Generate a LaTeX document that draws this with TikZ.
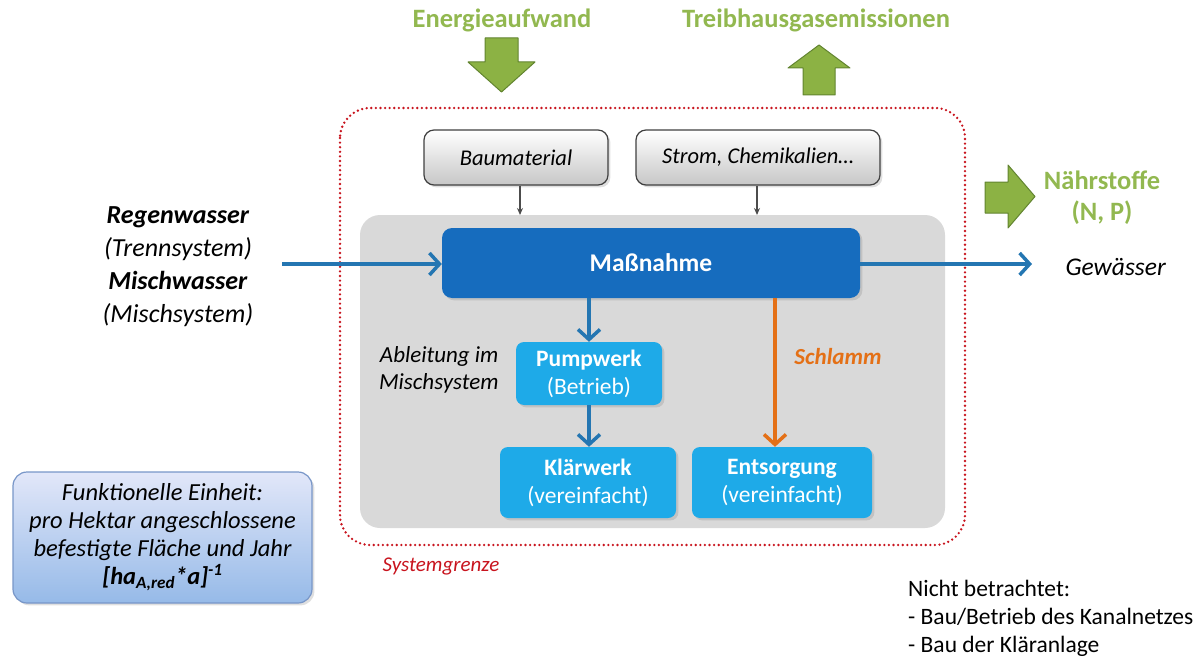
\documentclass[tikz,border=0pt]{standalone}
\usepackage{fontspec}
\setmainfont{Carlito}
\usetikzlibrary{arrows.meta,shadows}
\definecolor{gtext}{RGB}{146,184,80}
\definecolor{gfill}{RGB}{140,178,68}
\definecolor{gline}{RGB}{98,132,48}
\definecolor{dblue}{RGB}{22,108,190}
\definecolor{lblue}{RGB}{30,170,232}
\definecolor{flow}{RGB}{36,118,178}
\definecolor{orng}{RGB}{228,112,22}
\definecolor{sysred}{RGB}{200,20,30}
\definecolor{bggray}{RGB}{217,217,217}
\definecolor{fetop}{RGB}{226,231,249}
\definecolor{febot}{RGB}{150,186,232}
\definecolor{feline}{RGB}{120,150,200}
\tikzset{
  blockarrow/.style={fill=gfill, draw=gline, line width=1pt, line join=round},
  greylabel/.style={draw=black!75, line width=1.2pt, rounded corners=10pt, top color=white, bottom color=black!22, minimum height=55pt, font=\fontsize{22.5}{26}\selectfont\itshape, drop shadow={opacity=0.25}},
  bluebox/.style={fill=lblue, rounded corners=8pt, text=white, align=center, font=\fontsize{23.5}{28}\selectfont, drop shadow={opacity=0.25}},
  flowarrow/.style={draw=flow, line width=4pt, -{Straight Barb[length=10pt,width=22pt,line width=3.5pt]}},
  thinarrow/.style={draw=black!70, line width=1.2pt, -{Stealth[length=7pt,width=6pt]}},
  gtitle/.style={text=gtext, font=\fontsize{26.5}{30}\selectfont\bfseries},
}
\begin{document}
\begin{tikzpicture}[x=1pt,y=-1pt]
\useasboundingbox (0,0) rectangle (1200,661);

% system boundary
\draw[sysred, line width=2.6pt, dash pattern=on 0pt off 4.6pt, line cap=round, rounded corners=30pt] (340,108) rectangle (965,545);
\node[text=sysred, font=\fontsize{21}{24}\selectfont\itshape] (sysg) at (441,566) {Systemgrenze};

% gray background
\fill[bggray, rounded corners=20pt] (360,215) rectangle (945,528);

% green titles and block arrows
\node[gtitle] (energie) at (502,20) {Energieaufwand};
\node[gtitle] (thg) at (816,20) {Treibhausgasemissionen};
\draw[blockarrow] (485,38)--(518,38)--(518,62)--(535,62)--(501.5,92)--(468,62)--(485,62)--cycle;
\draw[blockarrow] (803,95)--(835,95)--(835,68)--(850,68)--(819,45)--(788,68)--(803,68)--cycle;
\draw[blockarrow] (985,182)--(1008,182)--(1008,165)--(1035,196.5)--(1008,228)--(1008,213)--(985,213)--cycle;
\node[text=gtext, font=\fontsize{26.5}{31}\selectfont\bfseries, align=center] (naehr) at (1102,198) {Nährstoffe\\(N, P)};

% gray input boxes
\node[greylabel, minimum width=184pt] (bau) at (516,157.5) {Baumaterial};
\node[greylabel, minimum width=244pt] (strom) at (758,157.5) {Strom, Chemikalien…};

% main box
\node[fill=dblue, rounded corners=10pt, minimum width=418pt, minimum height=70pt, text=white, font=\fontsize{25.5}{30}\selectfont\bfseries, drop shadow={opacity=0.25}] (mass) at (651,263) {Maßnahme};

\draw[thinarrow] (bau.south -| 520,0) -- (520,215);
\draw[thinarrow] (strom.south -| 757,0) -- (757,215);

% left text
\node[align=center, font=\fontsize{26}{33}\selectfont] (input) at (178,267) {\textbf{\textit{Regenwasser}}\\\textit{(Trennsystem)}\\\textbf{\textit{Mischwasser}}\\\textit{(Mischsystem)}};
\coordinate (inS) at (282,264);
\coordinate (outE) at (1032,264);
\draw[flowarrow] (inS) -- (mass.west |- inS);

% output
\node[font=\fontsize{25.5}{30}\selectfont\itshape, anchor=west] (gew) at (1062,267) {Gewässer};
\draw[flowarrow] (mass.east |- inS) -- (outE);

% lower boxes
\node[bluebox, minimum width=146pt, minimum height=63pt] (pump) at (589,373.5) {\textbf{Pumpwerk}\\(Betrieb)};
\node[bluebox, minimum width=176pt, minimum height=71pt] (klaer) at (588,482.5) {\textbf{Klärwerk}\\(vereinfacht)};
\node[bluebox, minimum width=180pt, minimum height=71pt] (ents) at (782,482.5) {\textbf{Entsorgung}\\(vereinfacht)};

\draw[flowarrow] (mass.south -| pump.north) -- (pump.north);
\draw[flowarrow] (pump.south) -- (klaer.north -| pump.south);
\draw[draw=orng, line width=4pt, -{Straight Barb[length=10pt,width=22pt,line width=3.5pt]}] (mass.south -| 775,0) -- (ents.north -| 775,0);

\node[text=orng, font=\fontsize{23}{27}\selectfont\bfseries\itshape] (schl) at (838,357) {Schlamm};
\node[align=right, anchor=east, font=\fontsize{23}{27}\selectfont\itshape] (ableit) at (502,370) {Ableitung im\\Mischsystem};

% functional unit
\node[draw=feline, line width=1.2pt, rounded corners=14pt, top color=fetop, bottom color=febot, minimum width=299pt, minimum height=131pt, align=center, font=\fontsize{24.5}{28}\selectfont\itshape, drop shadow={opacity=0.25}] (fe) at (162.5,537.5) {Funktionelle Einheit:\\pro Hektar angeschlossene\\befestigte Fläche und Jahr\\\textbf{[ha\textsubscript{A,red}*a]\textsuperscript{-1}}};

% not considered
\node[anchor=north west, align=left, inner sep=0pt, font=\fontsize{23.5}{28}\selectfont] (nicht) at (908,580) {Nicht betrachtet:\\- Bau/Betrieb des Kanalnetzes\\- Bau der Kläranlage};
\end{tikzpicture}
\end{document}
